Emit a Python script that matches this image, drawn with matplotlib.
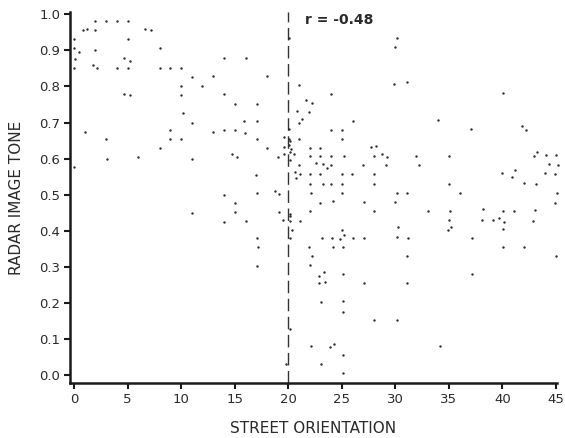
import matplotlib
matplotlib.use("Agg")
import matplotlib.pyplot as plt

plt.rcParams['font.family'] = ['DejaVu Sans']

orientation = [
    2.0, 3.0, 4.0, 5.0, 0.8, 1.2, 2.0, 6.6, 7.15, 0.0, 5.0, 0.0, 0.45, 2.0, 8.0, 0.1, 4.7, 5.2, 14.0, 0.0,
    1.8, 2.15, 4.0, 5.0, 8.0, 9.0, 10.0, 11.05, 13.0, 10.0, 12.0, 4.7, 5.2, 10.0, 14.0, 10.2, 11.05, 1.0,
    9.0, 13.0, 14.0, 3.0, 9.0, 10.0, 8.0, 3.1, 6.0, 11.0, 0.0, 14.0, 11.05, 14.05,
    20.05, 16.05, 18.0, 21.0, 24.0, 15.0, 17.05, 21.7, 22.25, 20.8, 21.9, 15.85, 17.1, 21.3, 21.05, 26.05,
    15.0, 16.0, 20.05, 24.0, 25.05, 17.05, 19.6, 20.1, 21.05, 25.05, 20.2, 18.0, 19.6, 20.1, 20.25, 22.0,
    23.0, 27.7, 28.2, 14.8, 15.2, 19.05, 19.6, 20.15, 20.55, 22.0, 23.0, 24.0, 25.2, 28.0, 28.8, 29.1,
    20.15, 21.05, 22.6, 23.25, 23.6, 24.0, 27.0, 20.6, 21.1, 20.75, 17.0, 22.0, 23.0, 25.0, 26.0, 28.0,
    22.0, 23.25, 24.0, 25.0, 28.0, 17.05, 18.8, 19.15, 22.1, 25.0,
    15.05, 15.05, 16.05, 19.1, 19.5, 20.15, 20.2, 20.15, 20.4, 20.2, 21.15, 22.05, 23.0, 24.15, 27.1, 28.05,
    17.05, 17.15, 17.05, 21.95, 22.2, 22.0, 23.15, 24.1, 24.8, 25.0, 25.25, 26.1, 27.1, 24.15, 25.1, 22.85,
    23.35, 22.9, 23.45, 25.1, 27.1, 23.05, 25.15, 25.1, 28.05, 20.15, 22.15, 23.9, 24.25, 25.1, 19.8, 23.1,
    25.1,
    30.2, 29.95, 29.9, 31.1, 40.1, 34.0, 37.05, 41.8, 42.25, 29.2, 31.95, 35.05, 32.25, 42.95, 43.25, 44.05,
    45.05, 44.4, 45.2, 39.95, 41.15, 40.9, 44.0, 44.9, 42.05, 43.15, 35.05, 30.15, 31.05, 36.05, 45.1,
    30.0, 44.95, 33.1, 35.1, 38.15, 40.1, 41.1, 43.05, 38.1, 39.1, 39.7, 40.2, 42.9, 35.0, 35.2, 34.9,
    30.25, 30.15, 31.2, 40.1, 37.15, 31.1, 40.1, 42.05, 45.05, 37.15, 31.1, 30.15, 34.15,
]
tone = [
    0.98, 0.98, 0.98, 0.98, 0.955, 0.96, 0.955, 0.96, 0.955, 0.93, 0.93, 0.905, 0.895, 0.90, 0.905, 0.875,
    0.88, 0.87, 0.88, 0.85, 0.86, 0.85, 0.85, 0.85, 0.85, 0.85, 0.85, 0.825, 0.83, 0.80, 0.80, 0.78, 0.775,
    0.775, 0.78, 0.725, 0.70, 0.675, 0.68, 0.675, 0.68, 0.655, 0.655, 0.655, 0.63, 0.60, 0.605, 0.60, 0.578,
    0.50, 0.45, 0.425,
    0.933, 0.878, 0.83, 0.805, 0.78, 0.752, 0.752, 0.762, 0.753, 0.732, 0.729, 0.704, 0.704, 0.71, 0.698,
    0.705, 0.68, 0.672, 0.681, 0.68, 0.68, 0.654, 0.66, 0.654, 0.654, 0.654, 0.649, 0.63, 0.632, 0.638,
    0.626, 0.63, 0.63, 0.632, 0.636, 0.613, 0.604, 0.605, 0.613, 0.618, 0.613, 0.606, 0.606, 0.606, 0.607,
    0.607, 0.612, 0.583, 0.596, 0.583, 0.589, 0.585, 0.575, 0.583, 0.583, 0.564, 0.558, 0.545, 0.555, 0.558,
    0.558, 0.558, 0.558, 0.558, 0.531, 0.531, 0.531, 0.531, 0.531, 0.504, 0.509, 0.502, 0.506, 0.506,
    0.478, 0.451, 0.427, 0.452, 0.43, 0.447, 0.44, 0.427, 0.403, 0.38, 0.428, 0.455, 0.478, 0.483, 0.479,
    0.454, 0.38, 0.355, 0.304, 0.355, 0.33, 0.306, 0.38, 0.38, 0.378, 0.403, 0.389, 0.38, 0.38, 0.355, 0.355,
    0.275, 0.285, 0.255, 0.258, 0.28, 0.255, 0.203, 0.205, 0.176, 0.153, 0.129, 0.08, 0.078, 0.088, 0.057,
    0.032, 0.03, 0.006,
    0.935, 0.909, 0.806, 0.811, 0.781, 0.707, 0.682, 0.689, 0.68, 0.605, 0.608, 0.606, 0.583, 0.607, 0.617,
    0.609, 0.61, 0.586, 0.583, 0.56, 0.568, 0.55, 0.56, 0.558, 0.533, 0.529, 0.531, 0.506, 0.506, 0.506, 0.505,
    0.479, 0.476, 0.455, 0.456, 0.461, 0.455, 0.456, 0.457, 0.431, 0.431, 0.435, 0.425, 0.428, 0.43, 0.41,
    0.402, 0.41, 0.383, 0.38, 0.404, 0.381, 0.33, 0.356, 0.355, 0.331, 0.28, 0.255, 0.153, 0.081,
]

x_ticks = [0, 5, 10, 15, 20, 25, 30, 35, 40, 45]
y_ticks = [0.0, 0.1, 0.2, 0.3, 0.4, 0.5, 0.6, 0.7, 0.8, 0.9, 1.0]
threshold = 20
r_label = "r = -0.48"

fig = plt.figure(figsize=(5.65, 4.38), dpi=100)
ax = fig.add_axes([0.1239, 0.1256, 0.8619, 0.847])

ax.scatter(orientation, tone, s=3.0, color='#2a2a2a', linewidths=0, clip_on=False, zorder=3)
ax.axvline(threshold, color='#333333', lw=1.0, dashes=(9, 4), zorder=2)

ax.set_xlim(-0.37, 45.1)
ax.set_ylim(-0.0213, 1.006)
ax.set_xticks(x_ticks)
ax.set_xticklabels([str(t) for t in x_ticks])
ax.set_yticks(y_ticks)
ax.set_yticklabels([f"{t:.1f}" for t in y_ticks])

for s in ['top', 'right']:
    ax.spines[s].set_visible(False)
for s in ['left', 'bottom']:
    ax.spines[s].set_linewidth(1.8)
    ax.spines[s].set_color('#1a1a1a')

ax.tick_params(axis='both', direction='out', length=4, width=1.5, color='#1a1a1a',
               labelsize=9.5, labelcolor='#2a2a2a', pad=3)

ax.set_xlabel("STREET ORIENTATION", fontsize=11, color='#2a2a2a', labelpad=11)
ax.set_ylabel("RADAR IMAGE TONE", fontsize=11, color='#2a2a2a', labelpad=11)

ax.text(21.6, 0.983, r_label, fontsize=10, fontweight='bold', color='#2a2a2a',
        ha='left', va='center')

fig.savefig("out.png", dpi=100, facecolor='white')
